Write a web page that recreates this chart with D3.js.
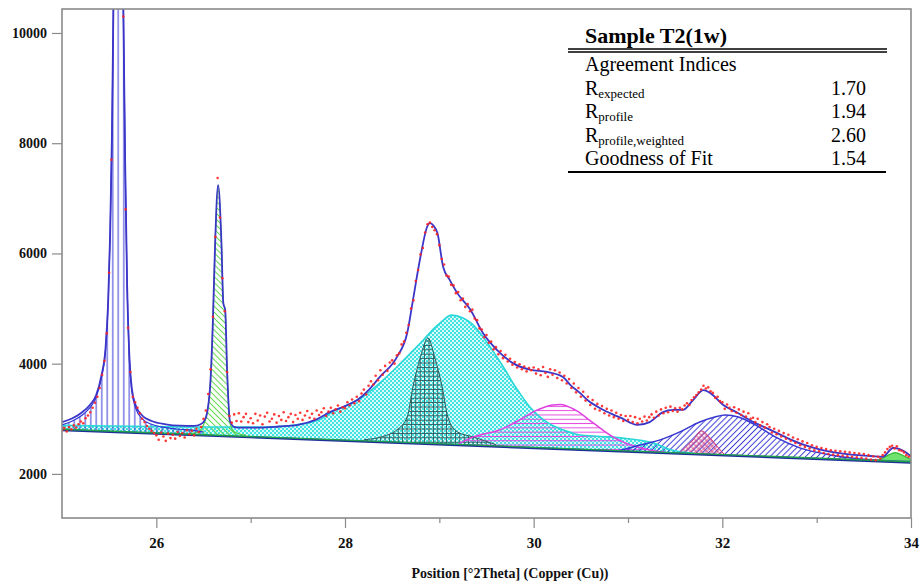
<!DOCTYPE html>
<html>
<head>
<meta charset="utf-8">
<script src="https://cdn.jsdelivr.net/npm/d3@7"></script>
<style>
  body { margin: 0; background: #fff; }
  #svg-container { width: 921px; height: 586px; }
  text { font-family: "Liberation Serif", "Times New Roman", serif; }
</style>
</head>
<body>
<div id="svg-container"></div>
<script>
////////////////////////////////////////////////////////////////////
////////////////////////////  Data  ////////////////////////////////
const xTicks = [26, 28, 30, 32, 34];
const xMinorTicks = [27, 29, 31, 33];
const yTicks = [2000, 4000, 6000, 8000, 10000];

// straight background line [2theta, counts]
const background = [[25.0, 2810], [34.0, 2220]];

// observed counts, one every 0.025 deg from 25.000
const obsStart = 25.0;
const obsStep = 0.025;
const obsCounts = [
  2790, 2830, 2770, 2850, 2810, 2880, 2840, 2900, 2950, 2920, 3010, 3060, 3120, 3200, 3290, 3400, 3560, 3800, 4050, 4550,
  5650, 7700, 11200, 14200, 14600, 13400, 10300, 6800, 4650, 3850, 3400, 3300, 3200, 3100, 3000, 2940, 2870, 2820, 2780, 2740,
  2700, 2620, 2750, 2680, 2600, 2730, 2650, 2710, 2640, 2760, 2690, 2740, 2660, 2790, 2720, 2780, 2700, 2820, 2760, 2850,
  3000, 3150, 3450, 3900, 4850, 6300, 7370, 6650, 5550, 4950, 3850, 3050, 2930, 3080, 2960, 3100, 2950, 3030, 3090, 2940,
  3010, 2920, 3090, 2970, 3060, 2900, 3040, 3110, 2950, 3000, 3080, 2930, 3050, 2980, 3120, 2960, 3030, 3090, 2940, 3070,
  3000, 3110, 2980, 3060, 3140, 3020, 3090, 3000, 3150, 3070, 3120, 3190, 3050, 3130, 3200, 3100, 3170, 3240, 3130, 3210,
  3190, 3300, 3240, 3350, 3280, 3400, 3320, 3460, 3530, 3440, 3600, 3680, 3620, 3780, 3700, 3880, 3800, 3960, 3870, 4020,
  4060, 4000, 4150, 4190, 4350, 4400, 4560, 4700, 5000, 5150, 5500, 5700, 5980, 6100, 6380, 6530, 6560, 6480, 6420, 6350,
  6150, 5900, 5800, 5600, 5580, 5430, 5420, 5280, 5300, 5150, 5180, 5030, 5080, 4950, 4980, 4820, 4790, 4640, 4620, 4480,
  4520, 4380, 4400, 4260, 4300, 4170, 4230, 4100, 4160, 4040, 4090, 3980, 4030, 3930, 3990, 3900, 3950, 3860, 3920, 3880,
  3930, 3820, 3900, 3790, 3940, 3830, 3760, 3900, 3800, 3880, 3740, 3840, 3700, 3780, 3640, 3720, 3560, 3640, 3480, 3560,
  3400, 3490, 3330, 3400, 3250, 3340, 3180, 3270, 3150, 3230, 3100, 3180, 3060, 3150, 3030, 3110, 3000, 3070, 2960, 3050,
  2980, 3050, 2940, 3030, 2920, 3000, 2950, 3040, 2970, 3030, 3080, 3020, 3130, 3060, 3170, 3100, 3200, 3120, 3220, 3140,
  3190, 3130, 3200, 3170, 3240, 3280, 3250, 3340, 3390, 3430, 3480, 3530, 3600, 3550, 3570, 3500, 3470, 3380, 3400, 3320,
  3300, 3180, 3260, 3200, 3140, 3210, 3110, 3170, 3070, 3130, 3040, 3100, 3000, 3020, 2940, 3000, 2880, 2940, 2840, 2900,
  2850, 2750, 2820, 2720, 2780, 2680, 2740, 2640, 2710, 2600, 2660, 2560, 2630, 2520, 2590, 2490, 2560, 2460, 2520, 2430,
  2490, 2410, 2470, 2380, 2450, 2360, 2430, 2350, 2420, 2340, 2410, 2330, 2400, 2320, 2390, 2310, 2380, 2300, 2370, 2290,
  2360, 2280, 2340, 2260, 2320, 2250, 2310, 2280, 2340, 2390, 2450, 2490, 2510, 2460, 2500, 2430, 2420, 2390, 2340, 2310,
  2320
];

// calculated profile (sum of all components)
const fitTotal = [
  [25.00, 2940], [25.10, 3000], [25.20, 3100], [25.30, 3260], [25.36, 3420], [25.42, 3800], [25.46, 4250],
  [25.49, 5150], [25.51, 6350], [25.53, 8200], [25.545, 10500], [25.58, 14500], [25.62, 14500], [25.65, 10500],
  [25.67, 7600], [25.69, 5450], [25.71, 4300], [25.74, 3550], [25.78, 3250], [25.85, 3060], [25.95, 2960],
  [26.10, 2900], [26.25, 2875], [26.40, 2870], [26.47, 2900], [26.52, 3000], [26.57, 3580], [26.60, 4800],
  [26.62, 6000], [26.655, 7240], [26.69, 6200], [26.71, 5100], [26.73, 4970], [26.75, 3890], [26.78, 2960],
  [26.83, 2850], [26.90, 2840], [27.10, 2840], [27.30, 2860], [27.50, 2890], [27.70, 2990], [27.84, 3120],
  [28.00, 3230], [28.13, 3340], [28.25, 3520], [28.37, 3760], [28.55, 4120], [28.66, 4560], [28.72, 5150],
  [28.80, 5940], [28.87, 6480], [28.90, 6550], [28.94, 6500], [28.98, 6370], [29.04, 5760], [29.11, 5520],
  [29.19, 5280], [29.33, 4980], [29.46, 4560], [29.61, 4250], [29.78, 4010], [29.96, 3890], [30.14, 3850],
  [30.31, 3760], [30.39, 3610], [30.49, 3470], [30.57, 3340], [30.74, 3160], [30.92, 3020], [31.10, 2890],
  [31.23, 2940], [31.37, 3120], [31.48, 3160], [31.58, 3160], [31.69, 3340], [31.80, 3520], [31.87, 3470],
  [32.01, 3250], [32.16, 3110], [32.33, 2940], [32.51, 2800], [32.69, 2650], [32.86, 2530], [33.04, 2440],
  [33.22, 2380], [33.39, 2345], [33.57, 2325], [33.70, 2310], [33.81, 2470], [33.88, 2450], [34.00, 2320]
];

// single components (upper edge, absolute counts)
const peak1 = [
  [25.00, 2890], [25.10, 2950], [25.20, 3050], [25.30, 3210], [25.36, 3380], [25.42, 3760], [25.46, 4220],
  [25.49, 5130], [25.51, 6330], [25.53, 8180], [25.545, 10480], [25.58, 14500], [25.62, 14500], [25.65, 10480],
  [25.67, 7580], [25.69, 5420], [25.71, 4260], [25.74, 3500], [25.78, 3200], [25.85, 3000], [25.95, 2900],
  [26.10, 2840], [26.25, 2810], [26.40, 2790], [26.50, 2760]
];
const peak2 = [
  [26.35, 2730], [26.44, 2760], [26.52, 2980], [26.57, 3578], [26.60, 4794], [26.62, 6009], [26.655, 7242],
  [26.69, 6200], [26.71, 5102], [26.73, 4975], [26.75, 3887], [26.78, 2925], [26.83, 2760], [26.95, 2700]
];
const peakBroad = [
  [25.00, 2880], [25.50, 2870], [26.00, 2860], [26.50, 2850], [27.00, 2850], [27.30, 2860], [27.52, 2900],
  [27.73, 2980], [27.84, 3100], [28.00, 3230], [28.19, 3400], [28.37, 3650], [28.55, 3940], [28.70, 4200],
  [28.83, 4430], [28.95, 4650], [29.01, 4740], [29.13, 4880], [29.25, 4830], [29.35, 4720], [29.43, 4560],
  [29.52, 4350], [29.61, 4120], [29.70, 3880], [29.78, 3650], [29.87, 3420], [29.96, 3215], [30.05, 3060],
  [30.14, 2940], [30.31, 2800], [30.49, 2707], [30.70, 2680], [30.92, 2653], [31.27, 2562], [31.45, 2440],
  [31.70, 2375]
];
const peakGrid = [
  [28.20, 2620], [28.40, 2680], [28.55, 2800], [28.66, 3034], [28.72, 3578], [28.80, 4122], [28.88, 4467],
  [28.95, 4122], [29.03, 3578], [29.09, 3034], [29.19, 2762], [29.36, 2671], [29.60, 2530]
];
const peakMagenta = [
  [29.20, 2540], [29.36, 2671], [29.64, 2798], [29.85, 2980], [30.04, 3161], [30.20, 3252], [30.28, 3260],
  [30.44, 3161], [30.63, 2925], [30.84, 2671], [30.97, 2562], [31.23, 2435], [31.40, 2390]
];
const peakBlue = [
  [30.90, 2420], [31.13, 2526], [31.34, 2617], [31.55, 2762], [31.76, 2943], [31.92, 3034], [32.03, 3070],
  [32.17, 3034], [32.35, 2889], [32.56, 2671], [32.82, 2472], [33.14, 2345], [33.46, 2272], [33.80, 2235],
  [34.00, 2225]
];
const peakSmall = [
  [31.55, 2385], [31.60, 2472], [31.69, 2617], [31.78, 2780], [31.87, 2653], [31.95, 2490], [32.02, 2355]
];
const peakEnd = [
  [33.65, 2245], [33.69, 2280], [33.76, 2340], [33.83, 2385], [33.92, 2330], [34.00, 2260]
];

const tableTitle = "Sample T2(1w)";
const tableHeader = "Agreement Indices";
const tableRows = [
  ["R", "expected", "1.70"],
  ["R", "profile", "1.94"],
  ["R", "profile,weighted", "2.60"],
  ["Goodness of Fit", "", "1.54"]
];
const xTitle = "Position [°2Theta] (Copper (Cu))";

////////////////////////////////////////////////////////////////////
////////////////////////////  Init  ///////////////////////////////
const width = 921;
const height = 586;
const margin = { top: 9, right: 10, bottom: 68, left: 62 };
const serif = '"Liberation Serif", "Times New Roman", serif';

const svg = d3
  .select("#svg-container")
  .append("svg")
  .attr("width", width)
  .attr("height", height);

const xScale = d3
  .scaleLinear()
  .domain([25, 34])
  .range([margin.left, width - margin.right]);

const yScale = d3
  .scaleLinear()
  .domain([1200, 10435])
  .range([height - margin.bottom, margin.top]);

// background level at a given angle
const bgScale = d3
  .scaleLinear()
  .domain(background.map((d) => d[0]))
  .range(background.map((d) => d[1]));

const defs = svg.append("defs");

defs
  .append("clipPath")
  .attr("id", "plot-clip")
  .append("rect")
  .attr("x", margin.left)
  .attr("y", margin.top)
  .attr("width", width - margin.left - margin.right)
  .attr("height", height - margin.top - margin.bottom);

////////////////////////////////////////////////////////////////////
////////////////////////////  Patterns  ////////////////////////////
function linePattern(id, size, color, angle, lines, sw) {
  const p = defs
    .append("pattern")
    .attr("id", id)
    .attr("patternUnits", "userSpaceOnUse")
    .attr("width", size)
    .attr("height", size)
    .attr("patternTransform", `rotate(${angle})`);
  lines.forEach((l) => {
    p.append("path")
      .attr("d", l === "v" ? `M${size / 2},0V${size}` : `M0,${size / 2}H${size}`)
      .attr("stroke", color)
      .attr("stroke-width", sw);
  });
}

linePattern("pat-vert", 5.5, "#3434d6", 0, ["v"], 1);
linePattern("pat-green", 4.2, "#5fd84a", -45, ["v"], 1);
linePattern("pat-grid", 4.4, "#2e5c5c", 0, ["v", "h"], 0.9);
linePattern("pat-horiz", 4.3, "#e246e2", 0, ["h"], 1);
linePattern("pat-blue", 4.2, "#3a3ad6", 45, ["v"], 1);
linePattern("pat-cross", 3.8, "#d0327a", 45, ["v", "h"], 0.8);

// cyan cross-hatch with white holes
const cyanPat = defs
  .append("pattern")
  .attr("id", "pat-cyan")
  .attr("patternUnits", "userSpaceOnUse")
  .attr("width", 4)
  .attr("height", 4);
cyanPat.append("rect").attr("width", 4).attr("height", 4).attr("fill", "#40e2e2");
cyanPat.append("rect").attr("x", 0.1).attr("y", 0.1).attr("width", 1.8).attr("height", 1.8).attr("fill", "#fff");
cyanPat.append("rect").attr("x", 2.1).attr("y", 2.1).attr("width", 1.8).attr("height", 1.8).attr("fill", "#fff");

////////////////////////////////////////////////////////////////////
////////////////////////////  Profiles  ////////////////////////////
const plot = svg.append("g").attr("clip-path", "url(#plot-clip)");

const area = d3
  .area()
  .curve(d3.curveMonotoneX)
  .x((d) => xScale(d[0]))
  .y0((d) => yScale(bgScale(d[0])))
  .y1((d) => yScale(d[1]));

const line = d3
  .line()
  .curve(d3.curveMonotoneX)
  .x((d) => xScale(d[0]))
  .y((d) => yScale(d[1]));

const components = [
  { data: peakBroad, fill: "url(#pat-cyan)", stroke: "#2ad8d8", sw: 1.6 },
  { data: peakGrid, fill: "url(#pat-grid)", stroke: "#2e5c5c", sw: 1 },
  { data: peakMagenta, fill: "url(#pat-horiz)", stroke: "#e040e0", sw: 1.5 },
  { data: peakBlue, fill: "url(#pat-blue)", stroke: "#3636d2", sw: 1.5 },
  { data: peakSmall, fill: "url(#pat-cross)", stroke: "#d0327a", sw: 1 },
  { data: peakEnd, fill: "#6ee36e", stroke: "#2fb82f", sw: 1.2 },
  { data: peak2, fill: "url(#pat-green)", stroke: "#4fcf3f", sw: 1.2 },
  { data: peak1, fill: "url(#pat-vert)", stroke: "#3232d4", sw: 1.2 }
];

components.forEach((c) => {
  plot.append("path").datum(c.data).attr("fill", c.fill).attr("d", area);
});
components.forEach((c) => {
  plot
    .append("path")
    .datum(c.data)
    .attr("fill", "none")
    .attr("stroke", c.stroke)
    .attr("stroke-width", c.sw)
    .attr("d", line);
});

// background
plot
  .append("path")
  .datum(background)
  .attr("fill", "none")
  .attr("stroke", "#1f2f9a")
  .attr("stroke-width", 2.2)
  .attr("d", d3.line().x((d) => xScale(d[0])).y((d) => yScale(d[1]) + 0.8));
plot
  .append("path")
  .datum(background)
  .attr("fill", "none")
  .attr("stroke", "#22a04a")
  .attr("stroke-width", 1.4)
  .attr("d", d3.line().x((d) => xScale(d[0])).y((d) => yScale(d[1])));

// calculated profile
plot
  .append("path")
  .datum(fitTotal)
  .attr("fill", "none")
  .attr("stroke", "#3b36c8")
  .attr("stroke-width", 1.8)
  .attr("d", line);

// observed points
plot
  .selectAll(".obs")
  .data(obsCounts)
  .enter()
  .append("circle")
  .attr("class", "obs")
  .attr("cx", (d, i) => xScale(obsStart + i * obsStep))
  .attr("cy", (d) => yScale(d))
  .attr("r", 1.3)
  .attr("fill", "#ff2222")
  .attr("fill-opacity", 0.9);

////////////////////////////////////////////////////////////////////
////////////////////////////  Axes  ////////////////////////////////
const xAxis = d3.axisBottom(xScale).tickValues(xTicks).tickSize(10).tickSizeOuter(0).tickPadding(9).tickFormat(d3.format("d"));
const xMinor = d3.axisBottom(xScale).tickValues(xMinorTicks).tickSize(5).tickSizeOuter(0).tickFormat("");
const yAxis = d3.axisLeft(yScale).tickValues(yTicks).tickSize(10).tickSizeOuter(0).tickPadding(5).tickFormat(d3.format("d"));

const gx = svg
  .append("g")
  .attr("class", "x-axis")
  .attr("transform", `translate(0,${height - margin.bottom})`)
  .call(xAxis)
  .attr("font-family", serif);
svg
  .append("g")
  .attr("class", "x-minor")
  .attr("transform", `translate(0,${height - margin.bottom})`)
  .call(xMinor);
const gy = svg
  .append("g")
  .attr("class", "y-axis")
  .attr("transform", `translate(${margin.left},0)`)
  .call(yAxis)
  .attr("font-family", serif);

svg.selectAll(".domain").remove();
svg.selectAll(".tick line").attr("stroke", "#8a8a8a").attr("stroke-width", 1.2);
gx.selectAll("text")
  .attr("fill", "#111")
  .style("font-size", "15px")
  .style("font-weight", "bold");
gy.selectAll("text")
  .attr("fill", "#111")
  .style("font-size", "14px")
  .style("font-weight", "bold");

// frame
svg
  .append("rect")
  .attr("x", margin.left)
  .attr("y", margin.top)
  .attr("width", width - margin.left - margin.right)
  .attr("height", height - margin.top - margin.bottom)
  .attr("fill", "none")
  .attr("stroke", "#8a8a8a")
  .attr("stroke-width", 1.6);

svg
  .append("text")
  .attr("x", 510)
  .attr("y", 578)
  .attr("text-anchor", "middle")
  .style("font-size", "14px")
  .style("font-weight", "bold")
  .attr("fill", "#111")
  .text(xTitle);

////////////////////////////////////////////////////////////////////
////////////////////////////  Table  ///////////////////////////////
const table = svg.append("g").attr("class", "fit-table");
const tLeft = 585;
const tRight = 866;

table
  .append("text")
  .attr("x", tLeft)
  .attr("y", 43)
  .style("font-size", "22px")
  .style("font-weight", "bold")
  .text(tableTitle);

[49, 52].forEach((yy) => {
  table
    .append("line")
    .attr("x1", 568).attr("x2", 887)
    .attr("y1", yy).attr("y2", yy)
    .attr("stroke", "#000")
    .attr("stroke-width", 1.5);
});

table
  .append("text")
  .attr("x", tLeft)
  .attr("y", 71)
  .style("font-size", "20px")
  .text(tableHeader);

tableRows.forEach((r, i) => {
  const yy = 95 + i * 23.4;
  const t = table.append("text").attr("x", tLeft).attr("y", yy).style("font-size", "20px");
  t.append("tspan").text(r[0]);
  if (r[1]) {
    t.append("tspan").attr("dy", 3).style("font-size", "13px").text(r[1]);
  }
  table
    .append("text")
    .attr("x", tRight)
    .attr("y", yy)
    .attr("text-anchor", "end")
    .style("font-size", "20px")
    .text(r[2]);
});

table
  .append("line")
  .attr("x1", 568).attr("x2", 886)
  .attr("y1", 172).attr("y2", 172)
  .attr("stroke", "#000")
  .attr("stroke-width", 1.8);
</script>
</body>
</html>
